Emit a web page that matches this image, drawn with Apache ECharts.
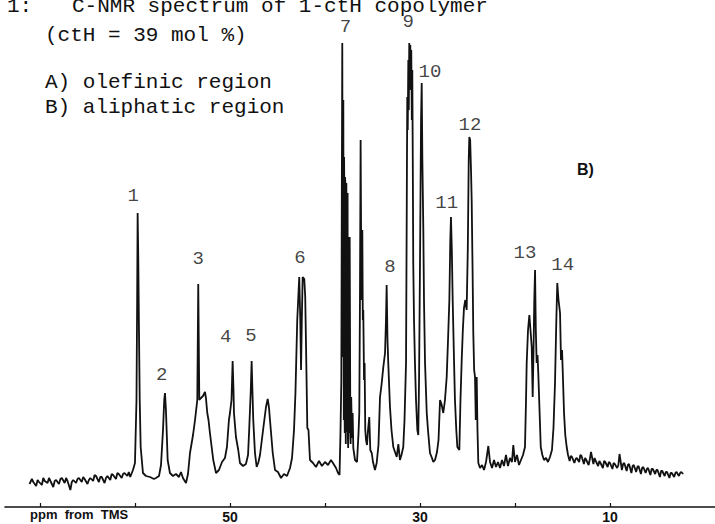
<!DOCTYPE html>
<html>
<head>
<meta charset="UTF-8"/>
<title>13C-NMR spectrum</title>
<script src="https://cdn.jsdelivr.net/npm/echarts@6/dist/echarts.min.js"></script>
<style>
  html, body { margin: 0; padding: 0; background: #fff; }
  #main { width: 715px; height: 524px; }
</style>
</head>
<body>
<div id="main"></div>
<script type="text/javascript">
// spectrum trace: [shift in ppm, intensity]
var baselineLeft = [
  [71.1,4.6],[70.85,5.6],[70.7,5.0],[70.4,4.2],[70.25,5.4],[70.1,5.0],[69.8,4.4],[69.65,5.8],[69.5,5.2],
  [69.2,4.8],[69.05,5.8],[68.9,5.2],[68.6,4.0],[68.45,5.2],[68.3,5.4],[68.0,4.6],[67.85,5.6],[67.7,5.8],
  [67.4,4.8],[67.25,5.8],[67.1,5.2],[66.8,3.4],[66.65,5.0],[66.5,5.4],[66.2,4.8],[66.05,5.6],[65.9,5.8],
  [65.6,5.0],[65.45,6.0],[65.3,5.6],[65.0,4.6],[64.85,5.4],[64.7,5.8],[64.4,5.2],[64.25,6.4],[64.1,6.2],
  [63.8,5.0],[63.65,6.0],[63.5,6.0],[63.2,4.8],[63.05,5.8],[62.9,6.2],[62.6,5.4],[62.45,6.6],[62.3,6.4],
  [62.0,5.6],[61.85,6.8],[61.7,6.6],[61.4,5.8],[61.25,6.6],[61.1,6.8],[60.8,6.2],[60.65,7.0],[60.5,6.0]
];
var peaks1to6 = [
  [60.21,7.4],[60.0,8.8],[59.84,21.4],[59.77,41.4],[59.72,58.8],[59.65,49.4],[59.58,35.4],
  [59.5,21.4],[59.4,12.0],[59.16,6.8],[58.84,6.2],[58.42,6.0],[58.0,5.6],[57.79,5.8],
  [57.47,6.2],[57.26,8.4],[57.05,15.4],[56.92,21.4],[56.84,22.8],[56.74,19.4],[56.56,9.4],
  [56.32,6.8],[56.0,6.2],[55.68,6.6],[55.37,6.0],[55.16,7.0],[54.95,5.8],[54.63,4.8],
  [54.42,6.6],[54.21,10.8],[53.89,14.4],[53.68,17.4],[53.44,21.4],[53.34,44.6],[53.23,21.4],
  [53.05,21.8],[52.84,22.2],[52.63,23.0],[52.53,21.8],[52.39,18.8],[52.26,17.4],[52.11,14.8],
  [51.76,9.4],[51.47,6.8],[51.16,7.4],[50.84,9.0],[50.53,9.8],[50.32,12.0],[50.11,17.4],
  [50.0,18.8],[49.84,21.4],[49.72,29.2],[49.63,23.4],[49.58,18.8],[49.37,14.0],[49.13,11.4],
  [48.95,8.8],[48.63,8.2],[48.32,8.6],[48.1,10.4],[47.97,15.8],[47.81,23.4],[47.72,29.2],
  [47.63,22.8],[47.55,17.4],[47.37,10.8],[47.19,8.0],[47.0,9.0],[46.84,10.4],[46.49,15.8],
  [46.21,20.0],[46.03,21.6],[45.89,19.8],[45.79,17.4],[45.5,10.8],[45.26,7.4],[44.95,7.0],
  [44.63,5.8],[44.32,6.6],[44.0,6.2],[43.68,7.8],[43.47,9.8],[43.26,15.4],[43.11,22.8],
  [42.92,37.4],[42.71,46.0],[42.6,37.4],[42.52,27.4],[42.44,37.4],[42.35,46.0],[42.18,45.6],
  [42.08,42.0],[42.0,32.8],[41.86,15.8],[41.74,15.4],[41.58,9.4],[41.26,8.8],[40.95,8.0],
  [40.63,9.2],[40.32,8.2],[40.0,9.0],[39.68,8.4],[39.37,9.4],[39.16,8.8],[38.84,7.8],
  [38.63,6.8],[38.47,6.4]
];
var peaks7to10 = [
  [38.37,14.8],[38.28,25.4],[38.23,61.4],[38.18,92.8],[38.15,60.0],[38.12,71.4],[38.09,30.0],[38.07,81.4],
  [38.04,40.0],[38.02,17.4],[37.99,70.0],[37.97,64.8],[37.94,20.0],[37.92,14.8],[37.89,66.0],[37.86,64.8],
  [37.83,18.0],[37.81,12.6],[37.78,64.0],[37.75,64.8],[37.71,15.0],[37.68,16.8],[37.65,62.0],[37.62,62.8],
  [37.59,14.0],[37.56,11.8],[37.52,54.0],[37.49,54.0],[37.46,16.0],[37.43,14.8],[37.4,54.0],[37.37,54.0],
  [37.33,14.0],[37.3,12.6],[37.24,22.0],[37.16,13.8],
  [37.09,18.8],[37.02,11.8],[36.84,9.4],[36.63,9.0],[36.47,14.8],[36.39,18.8],[36.32,41.4],
  [36.25,73.4],[36.19,51.4],[36.13,41.4],[36.07,55.4],[36.02,37.4],[35.97,39.4],[35.89,25.4],
  [35.83,28.8],[35.76,15.4],[35.68,13.4],[35.58,12.4],[35.47,15.4],[35.34,18.0],[35.23,11.4],
  [35.08,10.8],[34.95,9.0],[34.74,7.4],[34.56,8.8],[34.37,12.4],[34.21,22.0],[34.05,24.4],
  [33.86,28.0],[33.68,30.8],[33.58,37.4],[33.51,44.4],[33.42,33.4],[33.34,28.8],[33.16,20.0],
  [33.0,15.4],[32.81,12.0],[32.63,11.0],[32.45,10.0],[32.28,12.6],[32.11,9.4],[31.95,10.4],
  [31.76,12.0],[31.63,17.4],[31.47,28.8],[31.39,61.4],[31.34,82.0],[31.29,75.4],[31.23,89.4],
  [31.18,79.4],[31.13,92.8],[31.07,85.4],[31.02,92.4],[30.97,83.4],[30.92,91.4],[30.86,77.4],
  [30.81,87.4],[30.76,69.4],[30.71,48.8],[30.63,37.4],[30.53,28.8],[30.42,21.4],[30.28,15.4],
  [30.18,14.4],[30.1,25.4],[30.0,48.8],[29.89,77.4],[29.82,84.8],[29.75,69.4],[29.65,55.4],
  [29.58,41.4],[29.47,28.8],[29.29,18.8],[29.16,15.4],[28.95,10.8],[28.74,9.8],[28.6,9.0],
  [28.42,9.4],[28.21,11.0]
];
var peaks11to14 = [
  [28.05,13.4],[27.89,21.4],[27.74,20.6],[27.55,18.8],[27.37,21.4],[27.19,26.0],[27.05,33.4],
  [26.91,41.4],[26.81,53.4],[26.74,58.0],[26.65,51.4],[26.56,41.4],[26.42,29.4],[26.32,21.4],
  [26.18,15.4],[26.07,12.0],[25.86,11.4],[25.74,21.4],[25.61,29.4],[25.49,35.4],[25.37,39.8],
  [25.23,41.4],[25.09,39.4],[24.97,51.4],[24.87,69.4],[24.81,74.0],[24.72,73.4],[24.63,67.4],
  [24.56,61.4],[24.47,48.0],[24.39,34.8],[24.3,27.4],[24.21,26.0],[24.13,17.4],[24.03,26.0],
  [23.95,15.4],[23.86,8.8],[23.68,7.8],[23.47,8.4],[23.26,7.4],[23.05,9.0],[22.81,12.2],
  [22.63,9.0],[22.42,7.8],[22.21,9.4],[22.0,8.0],[21.79,9.0],[21.58,7.8],[21.37,9.4],
  [21.16,8.2],[20.95,10.4],[20.74,8.2],[20.53,9.8],[20.32,9.0],[20.18,12.4],[20.0,9.0],
  [19.79,10.4],[19.58,8.4],[19.37,9.4],[19.16,10.4],[18.95,12.0],[18.84,21.4],[18.77,28.8],
  [18.63,35.4],[18.49,38.4],[18.37,35.4],[18.24,32.0],[18.14,22.0],[18.05,31.4],[17.97,41.4],
  [17.89,47.4],[17.81,35.4],[17.72,28.8],[17.63,30.4],[17.55,26.8],[17.42,19.4],[17.29,12.0],
  [17.12,10.4],[16.95,9.4],[16.74,9.8],[16.53,9.0],[16.32,10.0],[16.11,11.4],[15.95,15.8],
  [15.79,24.8],[15.65,37.4],[15.55,44.8],[15.42,41.4],[15.26,38.8],[15.16,29.4],[15.05,31.4],
  [14.98,27.4],[14.84,18.8],[14.71,14.4],[14.56,12.0],[14.42,10.4]
];
var baselineRight = [
  [14.25,9.2],[14.12,10.2],[14.0,10.0],[13.75,8.8],[13.62,9.6],[13.5,9.8],[13.25,9.0],[13.12,10.4],[13.0,10.2],
  [12.75,8.6],[12.62,9.8],[12.5,9.4],[12.25,8.4],[12.12,9.6],[12.0,11.0],[11.75,8.6],[11.62,9.8],[11.5,9.2],
  [11.25,8.2],[11.12,9.2],[11.0,8.8],[10.75,7.8],[10.62,9.2],[10.5,9.0],[10.25,8.0],[10.12,9.0],[10.0,8.8],
  [9.75,7.6],[9.62,8.8],[9.5,8.6],[9.25,7.8],[9.12,8.4],[9.0,10.6],[8.75,7.4],[8.62,8.6],[8.5,8.8],
  [8.25,7.2],[8.12,8.4],[8.0,8.6],[7.75,6.8],[7.62,8.2],[7.5,8.4],[7.25,7.0],[7.12,8.0],[7.0,8.2],
  [6.75,6.6],[6.62,7.8],[6.5,8.0],[6.25,6.8],[6.12,7.6],[6.0,7.8],[5.75,6.4],[5.62,7.6],[5.5,7.6],
  [5.25,6.6],[5.12,7.4],[5.0,7.4],[4.75,6.0],[4.62,7.2],[4.5,7.2],[4.25,6.2],[4.12,7.0],[4.0,7.0],
  [3.75,5.8],[3.62,6.8],[3.5,6.8],[3.25,6.0],[3.12,6.8],[3.0,7.0],[2.75,6.2],[2.62,6.8],[2.5,7.0],[2.3,6.6]
];

// peak numbers and where they sit
var peakNames = ['1','2','3','4','5','6','7','8','9','10','11','12','13','14'];
var peakLabelPpm = [60.18,57.19,53.34,50.45,47.79,42.63,37.85,33.16,31.23,28.95,27.19,24.74,18.95,14.98];
var peakLabelHeight = [62.2,26.4,49.6,34.0,34.2,49.8,96.0,48.0,97.0,87.0,60.8,76.4,50.8,48.4];

// axis
var tickPpm = [70, 60, 50, 40, 30, 20, 10];
var labelPpm = [50, 30, 10];

var trace = baselineLeft.concat(peaks1to6, peaks7to10, peaks11to14, baselineRight);
var labelData = peakNames.map(function (n, i) {
  return { name: n, value: [peakLabelPpm[i], peakLabelHeight[i]] };
});

var mono = '"Liberation Mono", "DejaVu Sans Mono", monospace';
var ink = '#111';

function monoText(x, y, s) {
  return {
    type: 'text', left: x, top: y,
    style: { text: s, fontFamily: 'Liberation Mono', fontSize: 21, lineHeight: 15, fill: ink }
  };
}

var myChart = echarts.init(document.getElementById('main'), null, { renderer: 'svg' });

var option = {
  backgroundColor: '#fff',
  animation: false,
  grid: { left: 5, right: 0, top: 7, bottom: 17 },
  xAxis: {
    type: 'value',
    inverse: true,
    min: -1.05,
    max: 73.68,
    splitLine: { show: false },
    axisLine: { show: true, lineStyle: { color: ink, width: 1.6 } },
    axisTick: { show: true, inside: true, length: 4, customValues: tickPpm, lineStyle: { color: ink, width: 1.2 } },
    axisLabel: {
      show: true,
      customValues: labelPpm,
      margin: 3,
      color: ink,
      fontFamily: '"Liberation Sans", Arial, sans-serif',
      fontWeight: 'bold',
      fontSize: 14
    }
  },
  yAxis: {
    type: 'value',
    min: 0,
    max: 100,
    show: false
  },
  graphic: [
    monoText(7, -4, '1:'),
    monoText(72, -4, 'C-NMR spectrum of 1-ctH copolymer'),
    monoText(45, 25, '(ctH = 39 mol %)'),
    monoText(45, 72, 'A) olefinic region'),
    monoText(45, 97, 'B) aliphatic region'),
    { type: 'text', left: 30, top: 508, style: { text: 'ppm  from  TMS', font: 'bold 13px "Liberation Sans", Arial, sans-serif', fill: ink } },
    { type: 'text', left: 577, top: 161, style: { text: 'B)', font: 'bold 16px "Liberation Sans", Arial, sans-serif', fill: ink } }
  ],
  series: [
    {
      name: 'spectrum',
      type: 'line',
      data: trace,
      showSymbol: false,
      symbol: 'none',
      lineStyle: { color: ink, width: 1.8 },
      z: 3
    },
    {
      name: 'peaks',
      type: 'scatter',
      data: labelData,
      symbolSize: 0,
      silent: true,
      label: {
        show: true,
        position: 'inside',
        formatter: '{b}',
        color: ink,
        fontFamily: mono,
        fontSize: 19,
        lineHeight: 14
      },
      z: 4
    }
  ]
};

myChart.setOption(option);
</script>
</body>
</html>
